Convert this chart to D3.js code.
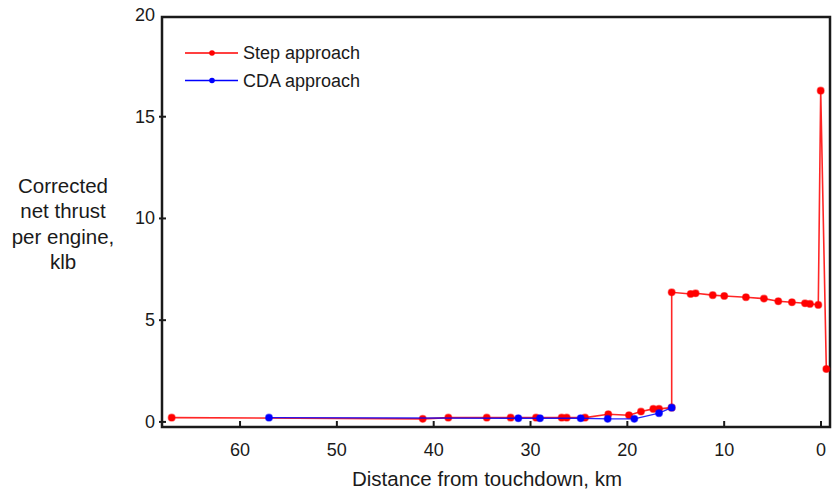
<!DOCTYPE html>
<html>
<head>
<meta charset="utf-8">
<script src="https://cdn.jsdelivr.net/npm/d3@7"></script>
<style>
  body { margin: 0; background: #fff; }
  svg { display: block; font-family: "Liberation Sans", Arial, sans-serif; }
</style>
</head>
<body>
<div id="chart"></div>
<script>
// Corrected net thrust per engine vs distance from touchdown

const stepDist   = [67.06, 41.13, 38.49, 34.52, 32.05, 29.43, 26.78, 26.26, 24.37, 21.97, 19.83, 18.59, 17.32, 16.73, 15.42,
                    15.42, 13.46, 12.95, 11.18, 9.99, 7.75, 5.89, 4.41, 3.0, 1.65, 1.14, 0.28, 0.03, -0.55];
const stepThrust = [0.21, 0.15, 0.21, 0.21, 0.21, 0.21, 0.21, 0.21, 0.21, 0.38, 0.33, 0.51, 0.64, 0.64, 0.70,
                    6.37, 6.29, 6.32, 6.23, 6.19, 6.13, 6.06, 5.93, 5.88, 5.83, 5.80, 5.75, 16.28, 2.60];

const cdaDist    = [57.01, 31.26, 29.02, 24.82, 22.03, 19.28, 16.73, 15.42];
const cdaThrust  = [0.21, 0.18, 0.18, 0.18, 0.15, 0.15, 0.43, 0.70];

const xTicks = [60, 50, 40, 30, 20, 10, 0];
const yTicks = [0, 5, 10, 15, 20];
const yTitle = ['Corrected', 'net thrust', 'per engine,', 'klb'];
const xTitle = 'Distance from touchdown, km';
const seriesNames = ['Step approach', 'CDA approach'];

const W = 838, H = 492;
const frame = { left: 162, right: 830, top: 17, bottom: 427 };

const svg = d3.select('#chart').append('svg').attr('width', W).attr('height', H);

const x = d3.scaleLinear().domain([68.06, -0.93]).range([frame.left, frame.right]);
const y = d3.scaleLinear().domain([-0.25, 19.9]).range([frame.bottom, frame.top]);

const ink = '#1a1a1a';

// x ticks (inward) and labels
xTicks.forEach(t => {
    svg.append('line')
        .attr('x1', x(t)).attr('x2', x(t))
        .attr('y1', frame.bottom).attr('y2', frame.bottom - 6)
        .attr('stroke', ink).attr('stroke-width', 2);
    svg.append('text').text(t)
        .attr('x', x(t)).attr('y', 450)
        .attr('text-anchor', 'middle').attr('dominant-baseline', 'central')
        .attr('font-size', '18px').attr('fill', ink);
});

// y ticks and labels
yTicks.forEach(t => {
    if (y(t) >= frame.top) {
        svg.append('line')
            .attr('x1', frame.left - 3).attr('x2', frame.left + 4)
            .attr('y1', y(t)).attr('y2', y(t))
            .attr('stroke', ink).attr('stroke-width', 2);
    }
    svg.append('text').text(t)
        .attr('x', 155).attr('y', y(t))
        .attr('text-anchor', 'end').attr('dominant-baseline', 'central')
        .attr('font-size', '18px').attr('fill', ink);
});

// frame
svg.append('rect')
    .attr('x', frame.left).attr('y', frame.top)
    .attr('width', frame.right - frame.left).attr('height', frame.bottom - frame.top)
    .attr('fill', 'none').attr('stroke', ink).attr('stroke-width', 2.5);

// axis titles
svg.append('text').text(xTitle)
    .attr('x', 487).attr('y', 478)
    .attr('text-anchor', 'middle').attr('dominant-baseline', 'central')
    .attr('font-size', '20.5px').attr('fill', ink);

svg.append('g').selectAll('text').data(yTitle).enter().append('text')
    .text(d => d)
    .attr('x', 63).attr('y', (d, i) => 185 + i * 25.5)
    .attr('text-anchor', 'middle').attr('dominant-baseline', 'central')
    .attr('font-size', '20.5px').attr('fill', ink);

// series
const line = d3.line().x(d => x(d[0])).y(d => y(d[1]));
const stepPts = stepDist.map((d, i) => [d, stepThrust[i]]);
const cdaPts = cdaDist.map((d, i) => [d, cdaThrust[i]]);

function drawSeries(pts, color, width) {
    const g = svg.append('g');
    g.append('path').datum(pts).attr('d', line)
        .attr('fill', 'none').attr('stroke', color)
        .attr('stroke-width', width).attr('stroke-opacity', 0.85);
    g.selectAll('circle').data(pts).enter().append('circle')
        .attr('cx', d => x(d[0])).attr('cy', d => y(d[1]))
        .attr('r', 3.4).attr('fill', color)
        .attr('stroke', color).attr('stroke-opacity', 0.5).attr('stroke-width', 1.3);
}
drawSeries(stepPts, '#ff0000', 1.6);
drawSeries(cdaPts, '#0000ff', 1.3);

// legend
const legend = svg.append('g');
[['#ff0000', seriesNames[0], 53], ['#0000ff', seriesNames[1], 80.5]].forEach(([c, name, ly]) => {
    legend.append('line').attr('x1', 185).attr('x2', 238).attr('y1', ly).attr('y2', ly)
        .attr('stroke', c).attr('stroke-width', 1.6);
    legend.append('circle').attr('cx', 212).attr('cy', ly).attr('r', 2.8).attr('fill', c);
    legend.append('text').text(name)
        .attr('x', 243).attr('y', ly).attr('dominant-baseline', 'central')
        .attr('font-size', '18px').attr('fill', ink);
});
</script>
</body>
</html>
